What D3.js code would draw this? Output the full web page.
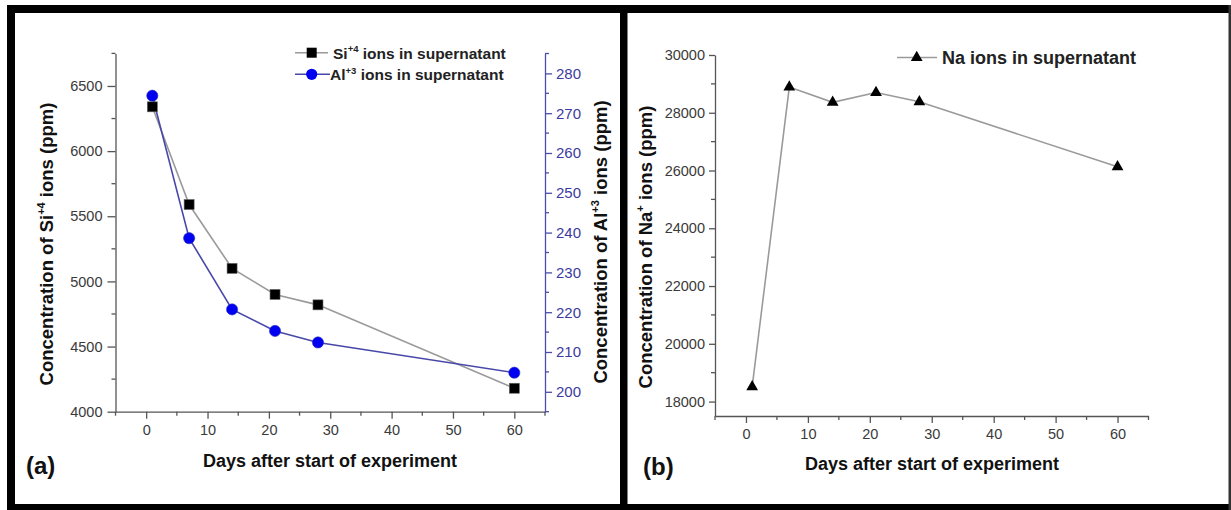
<!DOCTYPE html>
<html>
<head>
<meta charset="utf-8">
<script src="https://cdn.jsdelivr.net/npm/d3@7"></script>
<style>
  html, body { margin: 0; padding: 0; background: #fff; }
  svg { display: block; font-family: "Liberation Sans", Arial, sans-serif; }
</style>
</head>
<body>
<svg id="chart" width="1231" height="510"></svg>
<script>
// Sampling days (shared by both panels)
const days = [1, 7, 14, 21, 28, 60];

// Panel (a): silicon and aluminium ions in the supernatant (ppm)
const siValues = [6340, 5590, 5100, 4900, 4820, 4180];
const alValues = [274.4, 238.6, 220.7, 215.3, 212.4, 204.8];

// Panel (b): sodium ions in the supernatant (ppm)
const naValues = [18510, 28890, 28360, 28700, 28380, 26130];

// Tick values
const dayTicks = [0, 10, 20, 30, 40, 50, 60];
const dayMinorTicks = [-5, 5, 15, 25, 35, 45, 55, 65];
const siTicks = [4000, 4500, 5000, 5500, 6000, 6500];
const siMinorTicks = [4250, 4750, 5250, 5750, 6250, 6750];
const alTicks = [200, 210, 220, 230, 240, 250, 260, 270, 280];
const alMinorTicks = [195, 205, 215, 225, 235, 245, 255, 265, 275, 285];
const naTicks = [18000, 20000, 22000, 24000, 26000, 28000, 30000];
const naMinorTicks = [19000, 21000, 23000, 25000, 27000, 29000];

const svg = d3.select("#chart");
const AXIS = "#555";
const LABEL = "#3a3a3a";
const BLUE_AXIS = "#4d4dab";
const TICK_FONT = 14.5;

// ---------- frame ----------
const frame = svg.append("g");
frame.append("rect").attr("x", 7).attr("y", 5).attr("width", 1224).attr("height", 8).attr("fill", "#000");
frame.append("rect").attr("x", 7).attr("y", 504).attr("width", 1224).attr("height", 6).attr("fill", "#000");
frame.append("rect").attr("x", 7).attr("y", 5).attr("width", 8).attr("height", 505).attr("fill", "#000");
frame.append("rect").attr("x", 620).attr("y", 5).attr("width", 7.5).attr("height", 505).attr("fill", "#000");
frame.append("rect").attr("x", 1228.5).attr("y", 5).attr("width", 2.5).attr("height", 505).attr("fill", "#333");

// ---------- helpers ----------
function styleAxis(g, color) {
  g.select(".domain").attr("stroke", color).attr("stroke-width", 1.3);
  g.selectAll(".tick line").attr("stroke", color).attr("stroke-width", 1.3);
}
function minorTicks(g, scale, values, orient, len, color) {
  values.forEach(v => {
    const p = scale(v);
    const l = g.append("line").attr("stroke", color).attr("stroke-width", 1.3);
    if (orient === "bottom") l.attr("x1", p).attr("x2", p).attr("y1", 0).attr("y2", len);
    if (orient === "left") l.attr("x1", 0).attr("x2", -len).attr("y1", p).attr("y2", p);
    if (orient === "right") l.attr("x1", 0).attr("x2", len).attr("y1", p).attr("y2", p);
  });
}
function tickText(g, color, size) {
  g.selectAll(".tick text")
    .attr("fill", color)
    .style("font-size", size + "px")
    .style("font-family", "'Liberation Sans', Arial, sans-serif");
}
function rotatedTitle(parent, x, y, parts) {
  const t = parent.append("text")
    .attr("transform", `translate(${x},${y}) rotate(-90)`)
    .attr("text-anchor", "middle")
    .attr("font-weight", "bold")
    .attr("font-size", 18.5)
    .attr("fill", "#111");
  parts.forEach(p => {
    const s = t.append("tspan").text(p.text);
    if (p.sup) s.attr("font-size", 11).attr("dy", -8);
    if (p.after) s.attr("dy", 8);
  });
  return t;
}

// ---------- panel (a) ----------
const xA = d3.scaleLinear().domain([-5, 65]).range([115.5, 545]);
const ySi = d3.scaleLinear().domain([4000, 6750]).range([411.7, 53.4]);
const yAl = d3.scaleLinear().domain([195, 285]).range([411.7, 53.5]);

const gxA = svg.append("g").attr("transform", "translate(0,411.7)")
  .call(d3.axisBottom(xA).tickValues(dayTicks).tickSize(7).tickPadding(6).tickSizeOuter(0));
styleAxis(gxA, AXIS); tickText(gxA, LABEL, TICK_FONT);
minorTicks(gxA, xA, dayMinorTicks, "bottom", 4, AXIS);

const gySi = svg.append("g").attr("transform", "translate(115.5,0)")
  .call(d3.axisLeft(ySi).tickValues(siTicks).tickFormat(d3.format("d")).tickSize(8).tickPadding(5).tickSizeOuter(0));
styleAxis(gySi, AXIS); tickText(gySi, LABEL, TICK_FONT);
minorTicks(gySi, ySi, siMinorTicks, "left", 4, AXIS);

const gyAl = svg.append("g").attr("transform", "translate(545,0)")
  .call(d3.axisRight(yAl).tickValues(alTicks).tickSize(7).tickPadding(4).tickSizeOuter(0));
styleAxis(gyAl, BLUE_AXIS); tickText(gyAl, "#3b3ba0", TICK_FONT + 0.5);
minorTicks(gyAl, yAl, alMinorTicks, "right", 4, BLUE_AXIS);

const lineSi = d3.line().x((d, i) => xA(days[i])).y(d => ySi(d));
const lineAl = d3.line().x((d, i) => xA(days[i])).y(d => yAl(d));

svg.append("path").datum(siValues).attr("d", lineSi)
  .attr("fill", "none").attr("stroke", "#9a9a9a").attr("stroke-width", 1.6);
svg.append("path").datum(alValues).attr("d", lineAl)
  .attr("fill", "none").attr("stroke", "#4848a8").attr("stroke-width", 1.6);

svg.append("g").selectAll("rect").data(siValues).join("rect")
  .attr("x", (d, i) => xA(days[i]) - 5).attr("y", d => ySi(d) - 5)
  .attr("width", 10).attr("height", 10)
  .attr("fill", "#000").attr("stroke", "#666").attr("stroke-width", 0.6);
svg.append("g").selectAll("circle").data(alValues).join("circle")
  .attr("cx", (d, i) => xA(days[i])).attr("cy", d => yAl(d)).attr("r", 5.6)
  .attr("fill", "#0000f0").attr("stroke", "#3030c0").attr("stroke-width", 0.6);

// legend (a)
const legA = svg.append("g");
legA.append("line").attr("x1", 295).attr("x2", 328).attr("y1", 52.7).attr("y2", 52.7)
  .attr("stroke", "#9a9a9a").attr("stroke-width", 1.6);
legA.append("rect").attr("x", 306.7).attr("y", 47.7).attr("width", 10).attr("height", 10).attr("fill", "#000");
const tSi = legA.append("text").attr("x", 333).attr("y", 58.5)
  .attr("font-weight", "bold").attr("font-size", 15.5).attr("fill", "#222");
tSi.append("tspan").text("Si");
tSi.append("tspan").text("+4").attr("font-size", 9.5).attr("dy", -6.5);
tSi.append("tspan").text(" ions in supernatant").attr("dy", 6.5);

legA.append("line").attr("x1", 295).attr("x2", 330).attr("y1", 74.3).attr("y2", 74.3)
  .attr("stroke", "#4848a8").attr("stroke-width", 1.6);
legA.append("circle").attr("cx", 311.7).attr("cy", 74.3).attr("r", 5.6).attr("fill", "#0000f0");
const tAl = legA.append("text").attr("x", 330).attr("y", 80)
  .attr("font-weight", "bold").attr("font-size", 15.5).attr("fill", "#222");
tAl.append("tspan").text("Al");
tAl.append("tspan").text("+3").attr("font-size", 9.5).attr("dy", -6.5);
tAl.append("tspan").text(" ions in supernatant").attr("dy", 6.5);

// axis titles (a)
svg.append("text").attr("x", 330).attr("y", 467).attr("text-anchor", "middle")
  .attr("font-weight", "bold").attr("font-size", 18).attr("fill", "#111")
  .text("Days after start of experiment");
rotatedTitle(svg, 53, 244, [{text: "Concentration of Si"}, {text: "+4", sup: true}, {text: " ions (ppm)", after: true}]);
rotatedTitle(svg, 607, 242, [{text: "Concentration of Al"}, {text: "+3", sup: true}, {text: " ions (ppm)", after: true}]);
svg.append("text").attr("x", 26).attr("y", 474)
  .attr("font-weight", "bold").attr("font-size", 24).attr("fill", "#111").text("(a)");

// ---------- panel (b) ----------
const xB = d3.scaleLinear().domain([-5, 65]).range([715, 1148.5]);
const yNa = d3.scaleLinear().domain([17500, 30000]).range([416, 55]);

const gxB = svg.append("g").attr("transform", "translate(0,416)")
  .call(d3.axisBottom(xB).tickValues(dayTicks).tickSize(7).tickPadding(6).tickSizeOuter(0));
styleAxis(gxB, AXIS); tickText(gxB, LABEL, TICK_FONT);
minorTicks(gxB, xB, dayMinorTicks, "bottom", 4, AXIS);

const gyNa = svg.append("g").attr("transform", "translate(715,0)")
  .call(d3.axisLeft(yNa).tickValues(naTicks).tickFormat(d3.format("d")).tickSize(6).tickPadding(4).tickSizeOuter(0));
styleAxis(gyNa, AXIS); tickText(gyNa, LABEL, TICK_FONT);
minorTicks(gyNa, yNa, naMinorTicks, "left", 4, AXIS);

const lineNa = d3.line().x((d, i) => xB(days[i])).y(d => yNa(d));
svg.append("path").datum(naValues).attr("d", lineNa)
  .attr("fill", "none").attr("stroke", "#9a9a9a").attr("stroke-width", 1.6);

const tri = d3.symbol().type(d3.symbolTriangle).size(60);
svg.append("g").selectAll("path").data(naValues).join("path")
  .attr("d", tri)
  .attr("transform", (d, i) => `translate(${xB(days[i])},${yNa(d)})`)
  .attr("fill", "#000");

// legend (b)
const legB = svg.append("g");
legB.append("line").attr("x1", 897).attr("x2", 937).attr("y1", 57.5).attr("y2", 57.5)
  .attr("stroke", "#9a9a9a").attr("stroke-width", 1.6);
legB.append("path").attr("d", tri).attr("transform", "translate(916.7,57.5)").attr("fill", "#000");
legB.append("text").attr("x", 942).attr("y", 64).attr("font-weight", "bold").attr("font-size", 18)
  .attr("fill", "#222").text("Na ions in supernatant");

// axis titles (b)
svg.append("text").attr("x", 932).attr("y", 470).attr("text-anchor", "middle")
  .attr("font-weight", "bold").attr("font-size", 18).attr("fill", "#111")
  .text("Days after start of experiment");
rotatedTitle(svg, 652, 247, [{text: "Concentration of Na"}, {text: "+", sup: true}, {text: " ions (ppm)", after: true}]);
svg.append("text").attr("x", 643).attr("y", 475)
  .attr("font-weight", "bold").attr("font-size", 24).attr("fill", "#111").text("(b)");
</script>
</body>
</html>
